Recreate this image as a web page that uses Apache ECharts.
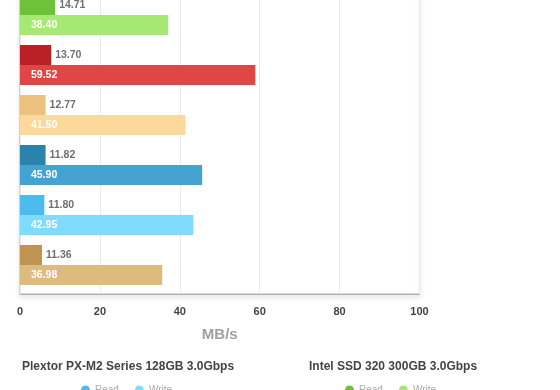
<!DOCTYPE html>
<html><head><meta charset="utf-8">
<script src="https://cdn.jsdelivr.net/npm/echarts@6/dist/echarts.min.js"></script>
<style>html,body{margin:0;padding:0;background:#fff;overflow:hidden}#c{position:absolute;left:0;top:-10px;width:560px;height:400px}</style>
</head><body><div id="c"></div><script>
const drives = ['Intel SSD 320 300GB 3.0Gbps', 'Drive B', 'Drive C', 'Drive D', 'Plextor PX-M2 Series 128GB 3.0Gbps', 'Drive F'];
const readBars = [8.8, 7.8, 6.4, 6.4, 6.1, 5.5];
const readLabels = ['14.71', '13.70', '12.77', '11.82', '11.80', '11.36'];
const writeBars = [37.1, 58.9, 41.4, 45.6, 43.4, 35.6];
const writeLabels = ['38.40', '59.52', '41.50', '45.90', '42.95', '36.98'];
const readColors = ['#6dc23a', '#ba2026', '#ecc07f', '#2a82ad', '#4dbbec', '#bf9450'];
const writeColors = ['#a6e874', '#e04646', '#fdd89b', '#44a3d0', '#80dcff', '#ddba7e'];
const xMin = 0, xMax = 100, xStep = 20;
const axisName = 'MB/s';
const legendDrives = ['Plextor PX-M2 Series 128GB 3.0Gbps', 'Intel SSD 320 300GB 3.0Gbps'];

const FONT = '"Liberation Sans", Arial, Helvetica, sans-serif';
const series = [];
drives.forEach((d, i) => {
  series.push({
    name: d + '|Read', type: 'bar', xAxisIndex: 1, yAxisIndex: 1, stack: 'read',
    barWidth: 20, barGap: 0, animation: false,
    itemStyle: { color: readColors[i] },
    data: drives.map((_, j) => j === i ? readBars[i] : '-'),
    label: { show: true, position: 'right', distance: 4, color: '#6f6f6f', fontSize: 10.5, fontWeight: 'bold', fontFamily: FONT,
      formatter: p => readLabels[p.dataIndex] }
  });
});
drives.forEach((d, i) => {
  series.push({
    name: d + '|Write', type: 'bar', xAxisIndex: 1, yAxisIndex: 1, stack: 'write',
    barWidth: 20, barGap: 0, animation: false,
    itemStyle: { color: writeColors[i] },
    data: drives.map((_, j) => j === i ? writeBars[i] : '-'),
    label: { show: true, position: 'insideLeft', distance: 11, color: '#fff', fontSize: 10.5, fontWeight: 'bold', fontFamily: FONT,
      formatter: p => writeLabels[p.dataIndex] }
  });
});

const chart = echarts.init(document.getElementById('c'), null, { renderer: 'canvas' });
chart.setOption({
  animation: false,
  textStyle: { fontFamily: FONT },
  title: [
    { text: legendDrives[0], left: 22, top: 371, padding: 0, textStyle: { fontSize: 12, fontWeight: 'bold', color: '#444', fontFamily: FONT } },
    { text: legendDrives[1], left: 309, top: 371, padding: 0, textStyle: { fontSize: 12, fontWeight: 'bold', color: '#444', fontFamily: FONT } }
  ],
  legend: [
    { data: [legendDrives[0] + '|Read', legendDrives[0] + '|Write'], left: 81, top: 395, padding: 0, icon: 'circle', itemWidth: 9, itemHeight: 9, itemGap: 16,
      formatter: n => n.split('|')[1], textStyle: { color: '#aaa', fontSize: 10, fontFamily: FONT } },
    { data: [legendDrives[1] + '|Read', legendDrives[1] + '|Write'], left: 345, top: 395, padding: 0, icon: 'circle', itemWidth: 9, itemHeight: 9, itemGap: 16,
      formatter: n => n.split('|')[1], textStyle: { color: '#aaa', fontSize: 10, fontFamily: FONT } }
  ],
  grid: [
    { left: 20, right: 140.5, top: 0, bottom: 96, show: true, borderColor: '#b0b0b0', borderWidth: 1, backgroundColor: '#fff',
      shadowColor: 'rgba(0,0,0,0.10)', shadowBlur: 6, shadowOffsetY: 3 },
    { left: 20, right: 140.5, top: 0, bottom: 100 }
  ],
  xAxis: [
    { gridIndex: 0, type: 'value', min: xMin, max: xMax, interval: xStep,
      name: axisName, nameLocation: 'middle', nameGap: 33,
      nameTextStyle: { color: '#a0a0a0', fontSize: 15, fontWeight: 'bold', fontFamily: FONT },
      axisLine: { show: true, lineStyle: { color: '#b0b0b0' } }, axisTick: { show: false },
      axisLabel: { color: '#444', fontSize: 11, fontWeight: 'bold', margin: 12, fontFamily: FONT },
      splitLine: { show: true, lineStyle: { color: '#ebebeb' } } },
    { gridIndex: 1, type: 'value', min: xMin, max: xMax, show: false, splitLine: { show: false } }
  ],
  yAxis: [
    { gridIndex: 0, type: 'value', show: false },
    { gridIndex: 1, type: 'category', data: drives, inverse: true, show: false }
  ],
  series: series
});
</script></body></html>
